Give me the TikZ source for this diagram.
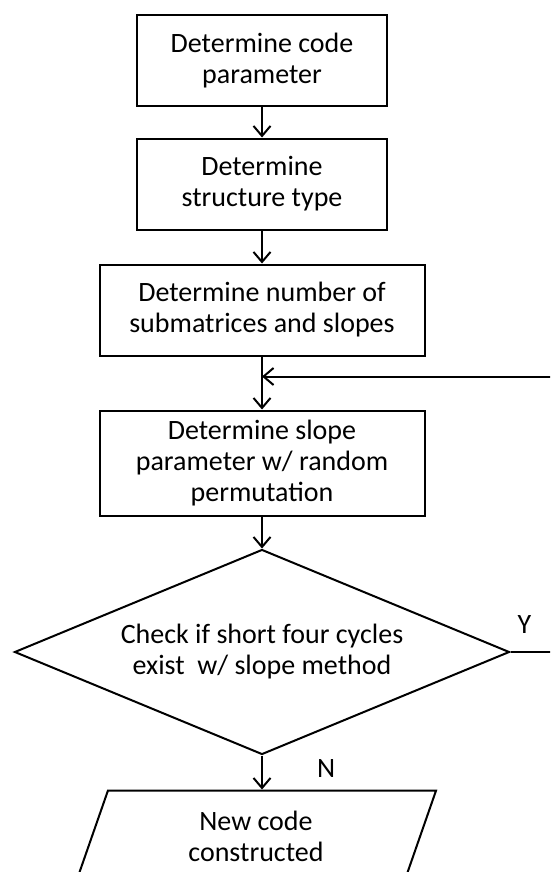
\documentclass[tikz,border=0pt]{standalone}
\usepackage{fontspec}
\setmainfont{Carlito}
\usetikzlibrary{arrows.meta, positioning, shapes.geometric}
\tikzset{
  block/.style    = {draw, rectangle, line width=2pt,
                     minimum width=250pt, minimum height=91pt,
                     align=center, font=\flowfont},
  wblock/.style   = {block, minimum width=325pt},
  decision/.style = {draw, diamond, line width=2pt, inner sep=0pt,
                     aspect=2.43, minimum width=495pt, minimum height=205pt,
                     align=center, font=\flowfont},
  io/.style       = {draw, trapezium, trapezium left angle=75,
                     trapezium right angle=105, trapezium stretches=true,
                     line width=2pt, minimum width=361pt,
                     minimum height=92pt, align=center, font=\flowfont},
  lbl/.style      = {inner sep=0pt, font=\flowfont},
  >={Straight Barb[length=10pt,width=17pt]}
}
\newcommand{\flowfont}{\fontsize{28}{31}\selectfont}

\begin{document}
\begin{tikzpicture}[x=1pt, y=1pt, line width=2pt]

  \useasboundingbox (0,0) rectangle (550,-872);
  \clip (0,0) rectangle (550,-872);

  %%──────────────────────────────────────────────────────────────────────────
  %%  MAIN CHAIN
  %%──────────────────────────────────────────────────────────────────────────
  \node[block]                        (param)  at (262,-61)
        {Determine code\\parameter};
  \node[block,    below=30pt of param]  (struct)
        {Determine\\structure type};
  \node[wblock,   below=33pt of struct] (submat)
        {Determine number of\\submatrices and slopes};
  \node[wblock,   below=53pt of submat, minimum height=105pt] (slope)
        {Determine slope\\parameter w/ random\\permutation};
  \node[decision, below=32pt of slope]  (check)
        {Check if short four cycles\\exist~ w/ slope method};
  \node[io,       below=34pt of check, xshift=-6pt] (done)
        {New code\\constructed};

  %%──────────────────────────────────────────────────────────────────────────
  %%  WIRES
  %%──────────────────────────────────────────────────────────────────────────
  \draw[->] (param)  -- (struct);
  \draw[->] (struct) -- (submat);
  \draw[->] (submat) -- (slope);
  \draw[->] (slope)  -- (check);
  \draw[->] (check.south) -- (check.south |- done.north);

  %% loop back when four cycles are found
  \coordinate[below=20pt of submat] (join);
  \draw[->] (check.east) -- ++(70pt,0) |- (join);

  %%──────────────────────────────────────────────────────────────────────────
  %%  BRANCH LABELS
  %%──────────────────────────────────────────────────────────────────────────
  \node[lbl, anchor=south west] at ([shift={(6pt,18pt)}]check.east) {Y};
  \node[lbl, anchor=north west] at ([shift={(54pt,-3pt)}]check.south) {N};

\end{tikzpicture}
\end{document}
